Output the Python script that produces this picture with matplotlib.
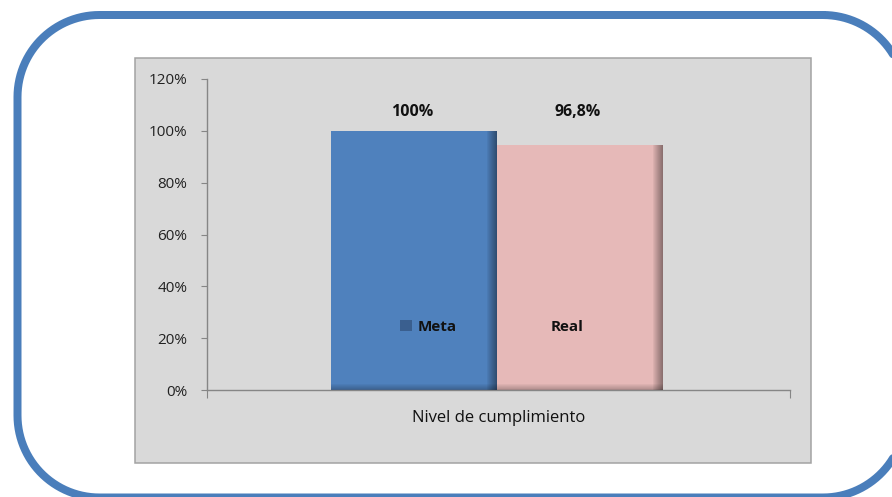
import numpy as np
import matplotlib.pyplot as plt
from matplotlib import patches
from matplotlib.ticker import PercentFormatter

# datos
series = ["Meta", "Real"]
valores = [1.00, 0.946]
etiquetas = ["100%", "96,8%"]
categoria = "Nivel de cumplimiento"
yticks = [0, 0.2, 0.4, 0.6, 0.8, 1.0, 1.2]
colores = ["#4F81BD", "#E6B9B8"]
color_leyenda = ["#3A5F8F", "#E6B9B8"]

plt.rcParams['font.family'] = ['Open Sans', 'DejaVu Sans']

W, H = 892, 497
fig = plt.figure(figsize=(W / 100, H / 100), dpi=100)
fig.patch.set_facecolor("white")

# fondo en pixeles: marco azul y area gris
bg = fig.add_axes([0, 0, 1, 1], zorder=0)
bg.set_xlim(0, W)
bg.set_ylim(H, 0)
bg.axis("off")


def marco_redondeado(x0, y0, x1, y1, r, n=30):
    pts = []
    esquinas = [(x1 - r, y0 + r, -90, 0), (x1 - r, y1 - r, 0, 90),
                (x0 + r, y1 - r, 90, 180), (x0 + r, y0 + r, 180, 270)]
    for cx, cy, a0, a1 in esquinas:
        a = np.radians(np.linspace(a0, a1, n))
        pts += list(zip(cx + r * np.cos(a), cy + r * np.sin(a)))
    pts.append(pts[0])
    return np.array(pts)


borde = marco_redondeado(17.5, 15, 905, 497.5, 82)
bg.plot(borde[:, 0], borde[:, 1], color="#4A7EBB", lw=8 * 0.72,
        solid_capstyle="round", clip_on=False)
bg.add_patch(patches.Rectangle((135, 58), 811 - 135, 463 - 58,
                               facecolor="#D9D9D9", edgecolor="#A3A3A3", linewidth=1.1))

ax = fig.add_axes([207 / W, 1 - 390 / H, (790 - 207) / W, (390 - 79) / H], zorder=1)
ax.set_facecolor("none")
ax.set_xlim(0, 1)
ax.set_ylim(0, 1.2)

# barras
centro = 0.497
ancho = 0.285
lefts = [centro - ancho + i * ancho for i in range(len(series))]
for x0, v, c in zip(lefts, valores, colores):
    ax.bar(x0, v, width=ancho, align="edge", color=c, zorder=2)
    # sombra del borde derecho
    n = 10
    sw = 10 / 583
    for k in range(n):
        ax.bar(x0 + ancho - sw + k * sw / n, v, width=sw / n, align="edge",
               color="black", alpha=0.05 * (k + 1) ** 0.9, linewidth=0, zorder=3)
    # sombra inferior
    sh = 6 / 259
    for k in range(6):
        ax.bar(x0, sh * (6 - k) / 6, width=ancho, align="edge", color="black",
               alpha=0.04, linewidth=0, zorder=3)

for x0, e in zip(lefts, etiquetas):
    ax.text(x0 + ancho / 2 - 0.003, 1.073, e, ha="center", va="center",
            fontsize=11.5, fontweight="bold", color="#111111")

# ejes
for s in ["top", "right"]:
    ax.spines[s].set_visible(False)
for s in ["left", "bottom"]:
    ax.spines[s].set_color("#868686")
    ax.spines[s].set_linewidth(1.0)
ax.set_yticks(yticks)
ax.yaxis.set_major_formatter(PercentFormatter(1.0, decimals=0))
ax.tick_params(axis="y", direction="out", length=4, color="#868686",
               labelsize=11, labelcolor="#222222", pad=10)
ax.set_xticks([0, 1])
ax.set_xticklabels(["", ""])
ax.tick_params(axis="x", direction="out", length=6, color="#868686")
ax.text(0.5, -0.09, categoria, transform=ax.transAxes, ha="center", va="center",
        fontsize=12, color="#111111")

handles = [patches.Patch(facecolor=c, edgecolor="none", label=s)
           for s, c in zip(series, color_leyenda)]
leg = ax.legend(handles=handles, ncol=2, loc="center", bbox_to_anchor=(0.489, 0.2026),
                frameon=False, handlelength=0.75, handleheight=0.75, handletextpad=0.35,
                columnspacing=5.1, prop={"size": 11, "weight": "bold"})
for t in leg.get_texts():
    t.set_color("#111111")

fig.savefig("out.png", dpi=100)
